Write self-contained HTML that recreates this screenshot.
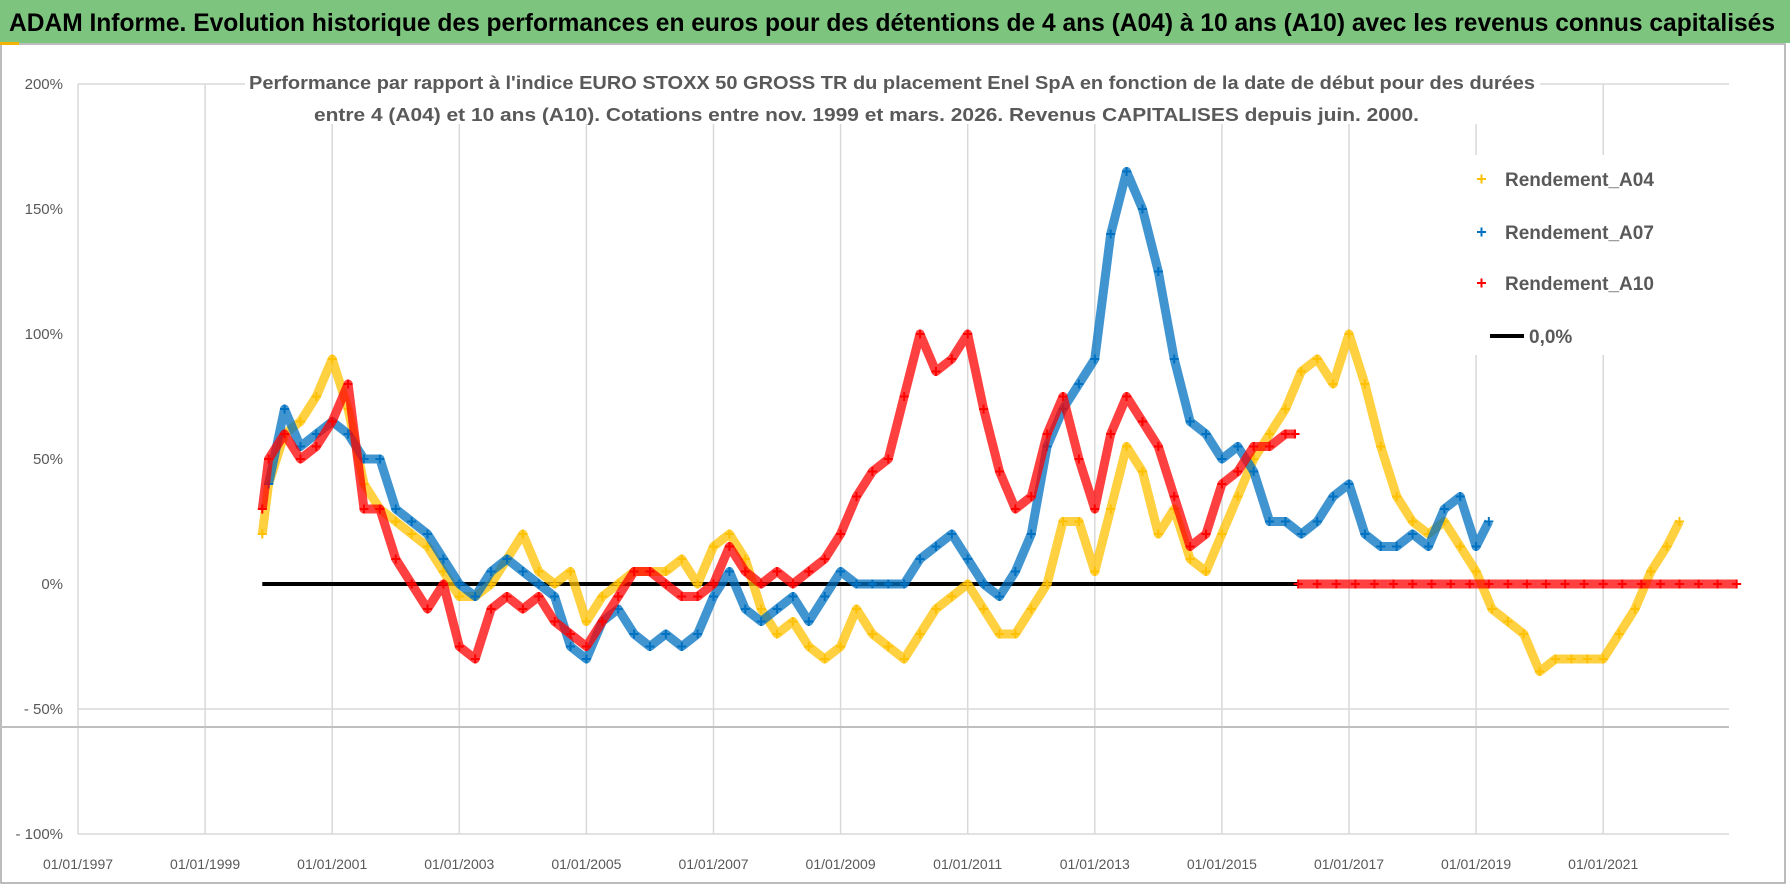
<!DOCTYPE html>
<html><head><meta charset="utf-8"><style>
html,body{margin:0;padding:0;background:#fff;}
svg{display:block;font-family:"Liberation Sans",sans-serif;}
</style></head><body>
<svg id="chart" width="1790" height="886" viewBox="0 0 1790 886" xmlns="http://www.w3.org/2000/svg">
<rect x="0" y="0" width="1790" height="886" fill="#fff"/>
<rect x="1" y="44" width="1784" height="839" fill="none" stroke="#a6a6a6" stroke-width="1.5"/>
<rect x="0" y="0" width="1790" height="43" fill="#7dc47f"/>
<rect x="0" y="42" width="19" height="3" fill="#f0b400"/>
<text x="9" y="31" font-size="25" font-weight="bold" fill="#000" textLength="1766" lengthAdjust="spacingAndGlyphs">ADAM Informe. Evolution historique des performances en euros pour des détentions de 4 ans (A04) à 10 ans (A10) avec les revenus connus capitalisés</text>
<g id="grid"></g>
<g id="axes"></g>
<g id="series"></g>
<rect x="245" y="64" width="1295" height="60" fill="#fff"/>
<text x="249" y="89" font-size="18" font-weight="bold" fill="#595959" textLength="1286" lengthAdjust="spacingAndGlyphs">Performance par rapport à l'indice EURO STOXX 50 GROSS TR  du placement Enel SpA en fonction de la date de début pour des durées</text>
<text x="314" y="121" font-size="18" font-weight="bold" fill="#595959" textLength="1105" lengthAdjust="spacingAndGlyphs">entre 4 (A04) et 10 ans (A10). Cotations entre nov. 1999 et mars. 2026. Revenus CAPITALISES depuis juin. 2000.</text>
<g>
<rect x="1470" y="155" width="250" height="200" fill="#fff"/>
<g><path d="M1477 179h9M1481.5 174.5v9" stroke="#ffc000" stroke-width="2"/><text x="1505" y="186" font-size="19" font-weight="bold" fill="#595959">Rendement_A04</text></g>
<g><path d="M1477 232h9M1481.5 227.5v9" stroke="#0070c0" stroke-width="2"/><text x="1505" y="239" font-size="19" font-weight="bold" fill="#595959">Rendement_A07</text></g>
<g><path d="M1477 283h9M1481.5 278.5v9" stroke="#ff0000" stroke-width="2"/><text x="1505" y="290" font-size="19" font-weight="bold" fill="#595959">Rendement_A10</text></g>
<g><path d="M1490 336h34" stroke="#000" stroke-width="4"/><text x="1505" y="343" font-size="19" font-weight="bold" fill="#595959" dx="24">0,0%</text></g>
</g>
</svg>
<script>
const yTicks=[200,150,100,50,0,-50,-100];
const yTickLabels=["200%","150%","100%","50%","0%","- 50%","- 100%"];
const xTicks=[1997,1999,2001,2003,2005,2007,2009,2011,2013,2015,2017,2019,2021];
const xTickLabels=["01/01/1997","01/01/1999","01/01/2001","01/01/2003","01/01/2005","01/01/2007","01/01/2009","01/01/2011","01/01/2013","01/01/2015","01/01/2017","01/01/2019","01/01/2021"];
const datesA04=[1999.9,2000,2000.25,2000.5,2000.75,2001,2001.25,2001.5,2001.75,2002,2002.25,2002.5,2002.75,2003,2003.25,2003.5,2003.75,2004,2004.25,2004.5,2004.75,2005,2005.25,2005.5,2005.75,2006,2006.25,2006.5,2006.75,2007,2007.25,2007.5,2007.75,2008,2008.25,2008.5,2008.75,2009,2009.25,2009.5,2009.75,2010,2010.25,2010.5,2010.75,2011,2011.25,2011.5,2011.75,2012,2012.25,2012.5,2012.75,2013,2013.25,2013.5,2013.75,2014,2014.25,2014.5,2014.75,2015,2015.25,2015.5,2015.75,2016,2016.25,2016.5,2016.75,2017,2017.25,2017.5,2017.75,2018,2018.25,2018.5,2018.75,2019,2019.25,2019.5,2019.75,2020,2020.25,2020.5,2020.75,2021,2021.25,2021.5,2021.75,2022,2022.2];
const valuesA04=[20,40,60,65,75,90,70,40,30,25,20,15,5,-5,-5,0,10,20,5,0,5,-15,-5,0,5,5,5,10,0,15,20,10,-10,-20,-15,-25,-30,-25,-10,-20,-25,-30,-20,-10,-5,0,-10,-20,-20,-10,0,25,25,5,30,55,45,20,30,10,5,20,35,50,60,70,85,90,80,100,80,55,35,25,20,25,15,5,-10,-15,-20,-35,-30,-30,-30,-30,-20,-10,5,15,25];
const datesA07=[2000,2000.25,2000.5,2000.75,2001,2001.25,2001.5,2001.75,2002,2002.25,2002.5,2002.75,2003,2003.25,2003.5,2003.75,2004,2004.25,2004.5,2004.75,2005,2005.25,2005.5,2005.75,2006,2006.25,2006.5,2006.75,2007,2007.25,2007.5,2007.75,2008,2008.25,2008.5,2008.75,2009,2009.25,2009.5,2009.75,2010,2010.25,2010.5,2010.75,2011,2011.25,2011.5,2011.75,2012,2012.25,2012.5,2012.75,2013,2013.25,2013.5,2013.75,2014,2014.25,2014.5,2014.75,2015,2015.25,2015.5,2015.75,2016,2016.25,2016.5,2016.75,2017,2017.25,2017.5,2017.75,2018,2018.25,2018.5,2018.75,2019,2019.2];
const valuesA07=[40,70,55,60,65,60,50,50,30,25,20,10,0,-5,5,10,5,0,-5,-25,-30,-15,-10,-20,-25,-20,-25,-20,-5,5,-10,-15,-10,-5,-15,-5,5,0,0,0,0,10,15,20,10,0,-5,5,20,55,70,80,90,140,165,150,125,90,65,60,50,55,45,25,25,20,25,35,40,20,15,15,20,15,30,35,15,25];
const datesA10=[1999.9,2000,2000.25,2000.5,2000.75,2001,2001.25,2001.5,2001.75,2002,2002.25,2002.5,2002.75,2003,2003.25,2003.5,2003.75,2004,2004.25,2004.5,2004.75,2005,2005.25,2005.5,2005.75,2006,2006.25,2006.5,2006.75,2007,2007.25,2007.5,2007.75,2008,2008.25,2008.5,2008.75,2009,2009.25,2009.5,2009.75,2010,2010.25,2010.5,2010.75,2011,2011.25,2011.5,2011.75,2012,2012.25,2012.5,2012.75,2013,2013.25,2013.5,2013.75,2014,2014.25,2014.5,2014.75,2015,2015.25,2015.5,2015.75,2016,2016.15];
const valuesA10=[30,50,60,50,55,65,80,30,30,10,0,-10,0,-25,-30,-10,-5,-10,-5,-15,-20,-25,-15,-5,5,5,0,-5,-5,0,15,5,0,5,0,5,10,20,35,45,50,75,100,85,90,100,70,45,30,35,60,75,50,30,60,75,65,55,35,15,20,40,45,55,55,60,60];
const zeroDatesA10=[2016.2,2016.5,2016.8,2017.1,2017.4,2017.7,2018,2018.3,2018.6,2018.9,2019.2,2019.5,2019.8,2020.1,2020.4,2020.7,2021,2021.3,2021.6,2021.9,2022.2,2022.5,2022.8,2023.1];
const zeroLineRange=[1999.9,2016.2];

const NS="http://www.w3.org/2000/svg";
const X0=78,PX_PER_YEAR=63.55,Y0=584,PX_PER_PCT=2.5;
function xScale(yr){return X0+(yr-1997)*PX_PER_YEAR;}
function yScale(v){return Y0-v*PX_PER_PCT;}
function mk(tag,attrs,parent){const e=document.createElementNS(NS,tag);for(const k in attrs)e.setAttribute(k,attrs[k]);parent.appendChild(e);return e;}
const grid=document.getElementById('grid'),axes=document.getElementById('axes'),series=document.getElementById('series');
const plotRight=1729;
xTicks.forEach((t,i)=>{
  const l=mk('line',{x1:xScale(t),x2:xScale(t),y1:yScale(200),y2:yScale(-100),stroke:'#d9d9d9','stroke-width':1.5},grid);
  
  
  const tx=mk('text',{x:xScale(t),y:869,'font-size':14,fill:'#595959','text-anchor':'middle'},axes);
  tx.textContent=xTickLabels[i];
  
  
});
[200,-50,-100].forEach(v=>{
  const l=mk('line',{x1:xScale(1997),x2:plotRight,y1:yScale(v),y2:yScale(v),stroke:'#d9d9d9','stroke-width':1.5},grid);
  
  
});
const ax=mk('line',{x1:0,x2:plotRight,y1:727,y2:727,stroke:'#bfbfbf','stroke-width':2},grid);


yTicks.forEach((v,i)=>{
  const tx=mk('text',{x:63,y:yScale(v)+5,'font-size':15,fill:'#595959','text-anchor':'end'},axes);
  tx.textContent=yTickLabels[i];
  
  
});
const zl=mk('line',{x1:xScale(zeroLineRange[0]),x2:xScale(zeroLineRange[1]),y1:yScale(0),y2:yScale(0),stroke:'#000','stroke-width':4},series);


function drawSeries(name,dates,vals,color){
  const g=mk('g',{},series);
  
  
  const pts=dates.map((d,i)=>xScale(d).toFixed(1)+','+yScale(vals[i]).toFixed(1)).join(' ');
  const pl=mk('polyline',{points:pts,fill:'none',stroke:color,'stroke-width':9,'stroke-opacity':0.75,'stroke-linejoin':'round'},g);
  
  
  dates.forEach((d,i)=>{
    const x=xScale(d),y=yScale(vals[i]);
    const p=mk('path',{d:`M${x-4.5} ${y}h9M${x} ${y-4.5}v9`,stroke:color,'stroke-width':2},g);
    
    
  });
}
drawSeries('series-a04',datesA04,valuesA04,'#ffc000');
drawSeries('series-a07',datesA07,valuesA07,'#0070c0');
drawSeries('series-a10',datesA10,valuesA10,'#ff0000');
drawSeries('series-a10-zero',zeroDatesA10,zeroDatesA10.map(()=>0),'#ff0000');
</script>
</body></html>
